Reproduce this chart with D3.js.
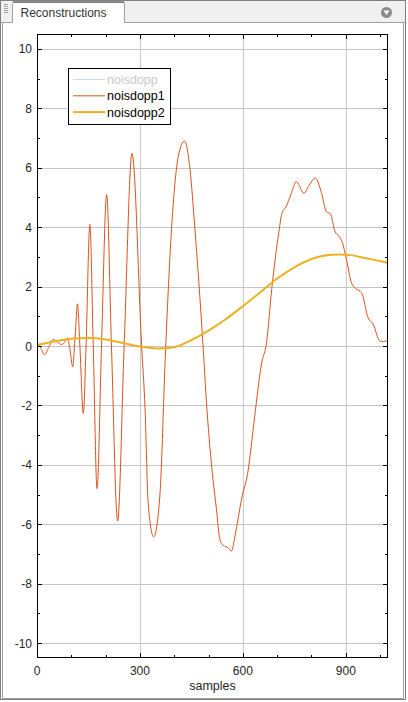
<!DOCTYPE html>
<html>
<head>
<meta charset="utf-8">
<script src="https://cdn.jsdelivr.net/npm/d3@7"></script>
<style>
  body { margin: 0; background: #fff; }
  text { font-family: "Liberation Sans", Arial, sans-serif; }
</style>
</head>
<body>
<script>
// данные
const samples1 = [0, 10, 22, 34, 47, 60, 72, 80, 88, 96, 104, 111, 118, 125, 135, 143, 154, 164, 175, 188,
  203, 217, 235, 254, 277, 305, 315, 324, 340, 358, 375, 392, 412, 430, 446, 460, 484, 494, 509, 523,
  533, 543, 557, 567, 577, 596, 616, 630, 655, 669, 684, 706, 713, 727, 740, 756, 778, 795, 811, 829,
  844, 855, 868, 881, 890, 902, 917, 929, 946, 965, 980, 999, 1010, 1023];
const values1 = [0.12, -0.05, -0.29, -0.05, 0.22, 0.12, 0.05, 0.12, 0.27, -0.1, -0.70, 0.3, 1.42, 0.0, -2.27, 0.0, 4.09, 0.0, -4.80, 0.0,
  5.10, 0.0, -5.89, 0.0, 6.48, 0.0, -2.13, -5.27, -6.42, -5.05, -0.06, 3.92, 6.39, 6.90, 5.94, 3.98, 0.0, -1.91, -4.04, -5.5,
  -6.51, -6.71, -6.79, -6.90, -6.40, -5.16, -4.15, -2.81, -0.56, 0.11, 1.90, 3.92, 4.43, 4.71, 5.10, 5.53, 5.14, 5.45, 5.65, 5.16,
  4.51, 4.45, 3.87, 3.68, 3.48, 2.91, 2.11, 1.93, 1.79, 0.95, 0.73, 0.17, 0.15, 0.20];

const samples2 = [0, 50, 100, 150, 200, 250, 300, 350, 400, 450, 500, 550, 600, 650, 700, 750, 800, 850, 880, 920, 960, 1000, 1023];
const values2 = [0.03, 0.15, 0.24, 0.27, 0.22, 0.10, -0.02, -0.08, -0.04, 0.20, 0.52, 0.90, 1.34, 1.80, 2.27, 2.65, 2.93, 3.06, 3.08, 3.05, 2.95, 2.86, 2.79];

const xTicks = [0, 300, 600, 900];
const yTicks = [-10, -8, -6, -4, -2, 0, 2, 4, 6, 8, 10];
const legendNames = ["noisdopp", "noisdopp1", "noisdopp2"];

var W = 408, H = 702;
var svg = d3.select("body").append("svg")
  .attr("width", W).attr("height", H);

// рамка окна и вкладка
svg.append("rect").attr("x", 0.5).attr("y", 0.5).attr("width", W - 3).attr("height", H - 3)
  .attr("fill", "#fff").attr("stroke", "#808080");
svg.append("rect").attr("x", 2.5).attr("y", 22.5).attr("width", W - 7).attr("height", H - 26)
  .attr("fill", "none").attr("stroke", "#a0a0a0");
svg.append("rect").attr("x", 1).attr("y", 1).attr("width", W - 4).attr("height", 21)
  .attr("fill", "#f0f0f0");
svg.append("line").attr("x1", 1).attr("x2", W - 3).attr("y1", 22.5).attr("y2", 22.5)
  .attr("stroke", "#a0a0a0");
// ручка слева
for (let i = 0; i < 5; i++) {
  svg.append("line").attr("x1", 4).attr("x2", 8).attr("y1", 4.5 + i * 2).attr("y2", 4.5 + i * 2)
    .attr("stroke", "#a0a0a0");
}
svg.append("path").attr("d", "M12.5,23 V3.5 Q12.5,2.5 13.5,2.5 H124.5 V23")
  .attr("fill", "#fff").attr("stroke", "#a0a0a0");
svg.append("line").attr("x1", 13).attr("x2", 124).attr("y1", 2).attr("y2", 2)
  .attr("stroke", "#707070").attr("stroke-width", 1.5);
svg.append("text").attr("x", 20.5).attr("y", 17).attr("font-size", 12).attr("fill", "#333")
  .text("Reconstructions");
svg.append("circle").attr("cx", 386.5).attr("cy", 12.5).attr("r", 5.5).attr("fill", "#8a8a8a");
svg.append("path").attr("d", "M383.5,10.5 L389.5,10.5 L386.5,15 Z").attr("fill", "#fff");

// оси
var L = 37, R = 388, T = 34, B = 658;
var x = d3.scaleLinear().domain([0, 1023]).range([L, R]);
var y = d3.scaleLinear().domain([-10.5, 10.5]).range([B, T]);

var g = svg.append("g");
g.selectAll(".gx").data(xTicks).enter().append("line")
  .attr("x1", d => x(d) + 0.5).attr("x2", d => x(d) + 0.5).attr("y1", T).attr("y2", B)
  .attr("stroke", "#c4c4c4");
g.selectAll(".gy").data(yTicks).enter().append("line")
  .attr("y1", d => Math.round(y(d)) + 0.5).attr("y2", d => Math.round(y(d)) + 0.5).attr("x1", L).attr("x2", R)
  .attr("stroke", "#c4c4c4");

var clip = svg.append("clipPath").attr("id", "clip").append("rect")
  .attr("x", L).attr("y", T).attr("width", R - L).attr("height", B - T);

var line1 = d3.line().x((d, i) => x(samples1[i])).y(d => y(d)).curve(d3.curveMonotoneX);
var line2 = d3.line().x((d, i) => x(samples2[i])).y(d => y(d)).curve(d3.curveMonotoneX);

svg.append("path").datum(values1).attr("d", line1).attr("clip-path", "url(#clip)")
  .attr("fill", "none").attr("stroke", "#D95319").attr("stroke-width", 1);
svg.append("path").datum(values2).attr("d", line2).attr("clip-path", "url(#clip)")
  .attr("fill", "none").attr("stroke", "#EDB120").attr("stroke-width", 2);

// рамка и засечки
function tickSet(vals, major) {
  var len = major ? 5 : 3;
  vals.forEach(function(v) {
    var px = Math.round(x(v)) + 0.5;
    svg.append("line").attr("x1", px).attr("x2", px).attr("y1", B).attr("y2", B - len).attr("stroke", "#000");
    svg.append("line").attr("x1", px).attr("x2", px).attr("y1", T).attr("y2", T + len).attr("stroke", "#000");
  });
}
tickSet(xTicks, true);
tickSet(d3.range(100, 1024, 100).filter(d => d % 300 != 0), false);

function yTickSet(vals, len) {
  vals.forEach(function(v) {
    var py = Math.round(y(v)) + 0.5;
    svg.append("line").attr("x1", L).attr("x2", L + len).attr("y1", py).attr("y2", py).attr("stroke", "#000");
    svg.append("line").attr("x1", R).attr("x2", R - len).attr("y1", py).attr("y2", py).attr("stroke", "#000");
  });
}
yTickSet(yTicks, 5);
yTickSet(d3.range(-9, 10, 2), 3);

svg.append("rect").attr("x", L + 0.5).attr("y", T + 0.5).attr("width", R - L - 1).attr("height", B - T - 1)
  .attr("fill", "none").attr("stroke", "#000");

svg.selectAll(".xl").data(xTicks).enter().append("text")
  .attr("x", d => x(d)).attr("y", B + 17).attr("text-anchor", "middle")
  .attr("font-size", 12).attr("fill", "#262626").text(d => d);
svg.selectAll(".yl").data(yTicks).enter().append("text")
  .attr("x", L - 5).attr("y", d => y(d) + 4.5).attr("text-anchor", "end")
  .attr("font-size", 12).attr("fill", "#262626").text(d => d);
svg.append("text").attr("x", (L + R) / 2).attr("y", B + 32).attr("text-anchor", "middle")
  .attr("font-size", 12.5).attr("fill", "#262626").text("samples");

// легенда
var leg = svg.append("g");
leg.append("rect").attr("x", 68.5).attr("y", 68.5).attr("width", 102).attr("height", 56)
  .attr("fill", "#fff").attr("stroke", "#000");
var legColors = ["#c9dce9", "#D95319", "#EDB120"];
var legWidths = [1, 1, 2];
var legText = ["#c8c8c8", "#000", "#000"];
legendNames.forEach(function(n, i) {
  var ly = 79.5 + i * 16.3;
  leg.append("line").attr("x1", 73).attr("x2", 105).attr("y1", ly).attr("y2", ly)
    .attr("stroke", legColors[i]).attr("stroke-width", legWidths[i]);
  leg.append("text").attr("x", 107).attr("y", ly + 4.5).attr("font-size", 12.5)
    .attr("fill", legText[i]).text(n);
});
</script>
</body>
</html>
